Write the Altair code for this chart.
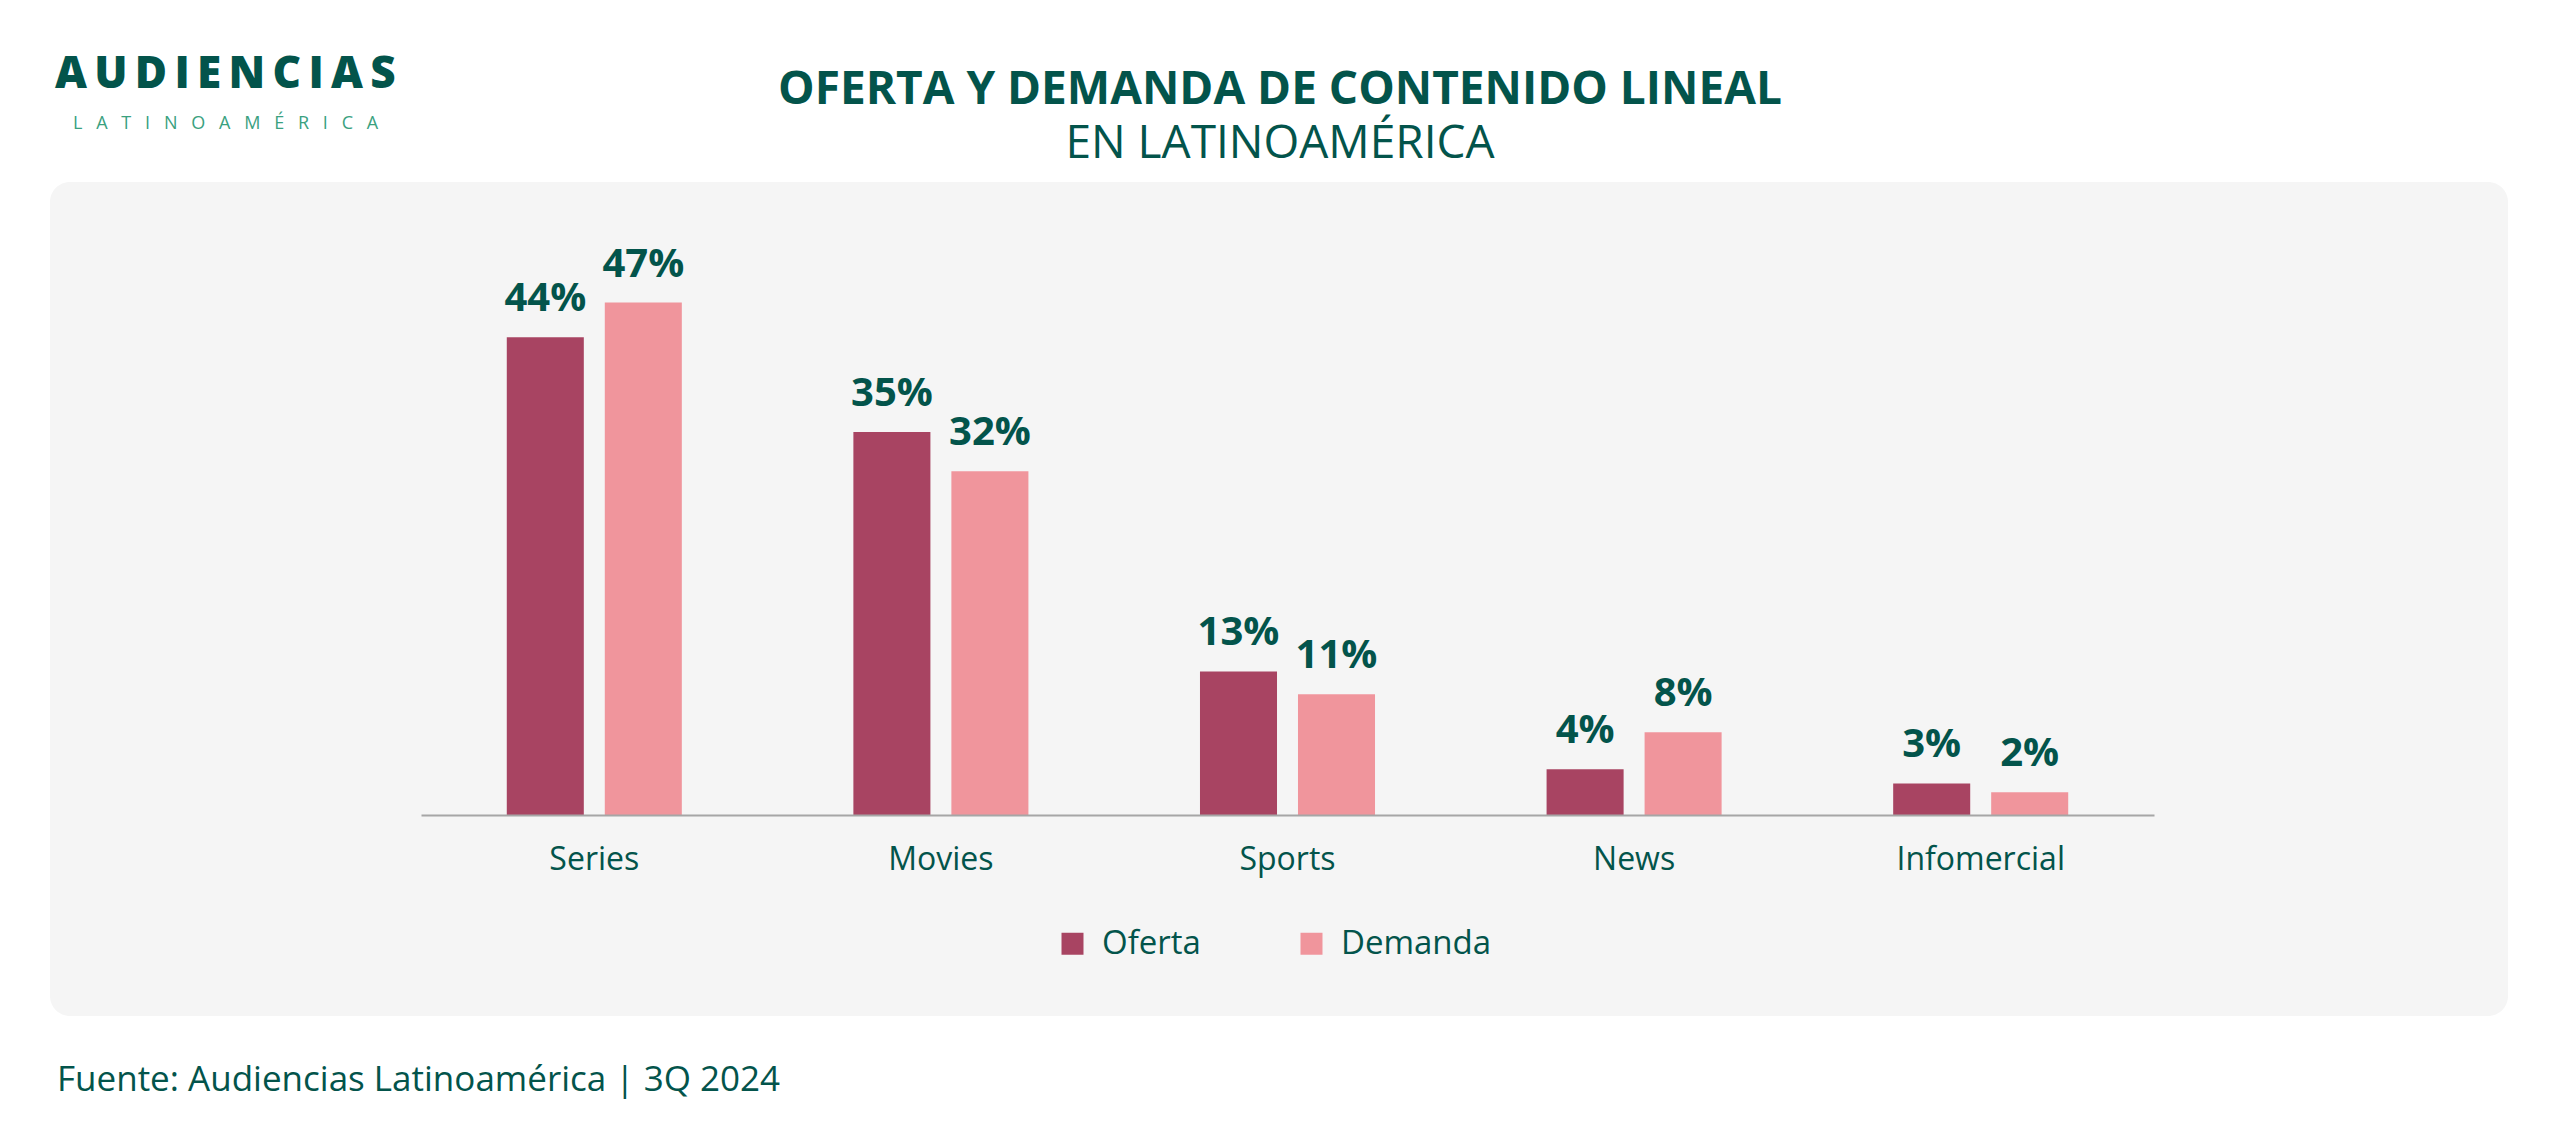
import altair as alt
import pandas as pd

categorias = ["Series", "Movies", "Sports", "News", "Infomercial"]
series = ["Oferta", "Demanda"]
oferta = [43.9, 35.2, 13.2, 4.2, 2.9]
demanda = [47.1, 31.6, 11.1, 7.6, 2.1]
colores = ["#a84462", "#f0959c"]

titulo = "OFERTA Y DEMANDA DE CONTENIDO LINEAL"
subtitulo = "EN LATINOAMÉRICA"
fuente = "Fuente: Audiencias Latinoamérica | 3Q 2024"
logo1 = "AUDIENCIAS"
logo2 = "LATINOAMÉRICA"

VERDE = "#03544b"
VERDE_CLARO = "#3aa17f"
FONT = "Open Sans"

rows = []
for c, o, d in zip(categorias, oferta, demanda):
    rows.append({"categoria": c, "serie": "Oferta", "valor": o})
    rows.append({"categoria": c, "serie": "Demanda", "valor": d})
df = pd.DataFrame(rows)

W, H = 1733, 544

x_enc = alt.X(
    "categoria:N",
    sort=categorias,
    scale=alt.Scale(paddingInner=0.495, paddingOuter=0.2475),
    axis=alt.Axis(
        title=None,
        labelAngle=0,
        ticks=False,
        labelFontSize=32,
        labelColor=VERDE,
        labelFont=FONT,
        labelPadding=29,
        domainColor="#a6a6a6",
        domainWidth=2,
        grid=False,
        zindex=1,
    ),
)
xoff = alt.XOffset("serie:N", sort=series, scale=alt.Scale(paddingInner=0.214, paddingOuter=0))
y_enc = alt.Y("valor:Q", scale=alt.Scale(domain=[0, 50]), axis=None)

base = alt.Chart(df)

bars = base.mark_bar().encode(
    x=x_enc,
    xOffset=xoff,
    y=y_enc,
    color=alt.Color(
        "serie:N",
        sort=series,
        scale=alt.Scale(domain=series, range=colores),
        legend=alt.Legend(
            orient="none",
            legendX=635,
            legendY=656,
            direction="horizontal",
            title=None,
            symbolType="square",
            symbolSize=484,
            symbolStrokeWidth=0,
            labelFontSize=33,
            labelFont=FONT,
            labelColor=VERDE,
            labelOffset=13,
            columnPadding=94,
            labelExpr="datum.label == 'Demanda' ? '   Demanda' : datum.label",
            zindex=1,
        ),
    ),
)

labels = base.transform_calculate(
    etiqueta="format(datum.valor, '.0f') + '%'"
).mark_text(
    fontSize=40, fontWeight="bold", font=FONT, color=VERDE, baseline="alphabetic", dy=-26
).encode(
    x=alt.X("categoria:N", sort=categorias),
    xOffset=alt.XOffset("serie:N", sort=series),
    y="valor:Q",
    text="etiqueta:N",
)

one = alt.Data(values=[{}])

panel = alt.Chart(one).mark_rect(color="#f5f5f5", cornerRadius=20).encode(
    x=alt.value(-371), x2=alt.value(2087), y=alt.value(-89), y2=alt.value(745)
)

t1 = alt.Chart(one).mark_text(
    text=titulo, fontSize=46, fontWeight="bold", font=FONT, color=VERDE, align="center", baseline="alphabetic"
).encode(x=alt.value(859), y=alt.value(-167))
t2 = alt.Chart(one).mark_text(
    text=subtitulo, fontSize=46, font=FONT, color=VERDE, align="center", baseline="alphabetic"
).encode(x=alt.value(859), y=alt.value(-113))

l1 = alt.Chart(one).mark_text(
    text="\u2009".join(logo1), fontSize=44, fontWeight=800, font=FONT, color=VERDE, align="left", baseline="alphabetic"
).encode(x=alt.value(-366), y=alt.value(-183))
l2 = alt.Chart(one).mark_text(
    text="\u2002\u2009\u200a".join(logo2), fontSize=18, font=FONT, color=VERDE_CLARO, align="left", baseline="alphabetic"
).encode(x=alt.value(-348), y=alt.value(-142))

foot = alt.Chart(one).mark_text(
    text=fuente, fontSize=35, font=FONT, color=VERDE, align="left", baseline="alphabetic"
).encode(x=alt.value(-364), y=alt.value(820))

chart = alt.layer(panel, bars, labels, t1, t2, l1, l2, foot).properties(
    width=W,
    height=H,
    autosize=alt.AutoSizeParams(type="none"),
    padding={"left": 413, "top": 263, "right": 398, "bottom": 322},
    background="white",
).configure_view(strokeWidth=0).configure(font=FONT)

chart.save("out.html", embed_options={"renderer": "svg", "actions": False})
